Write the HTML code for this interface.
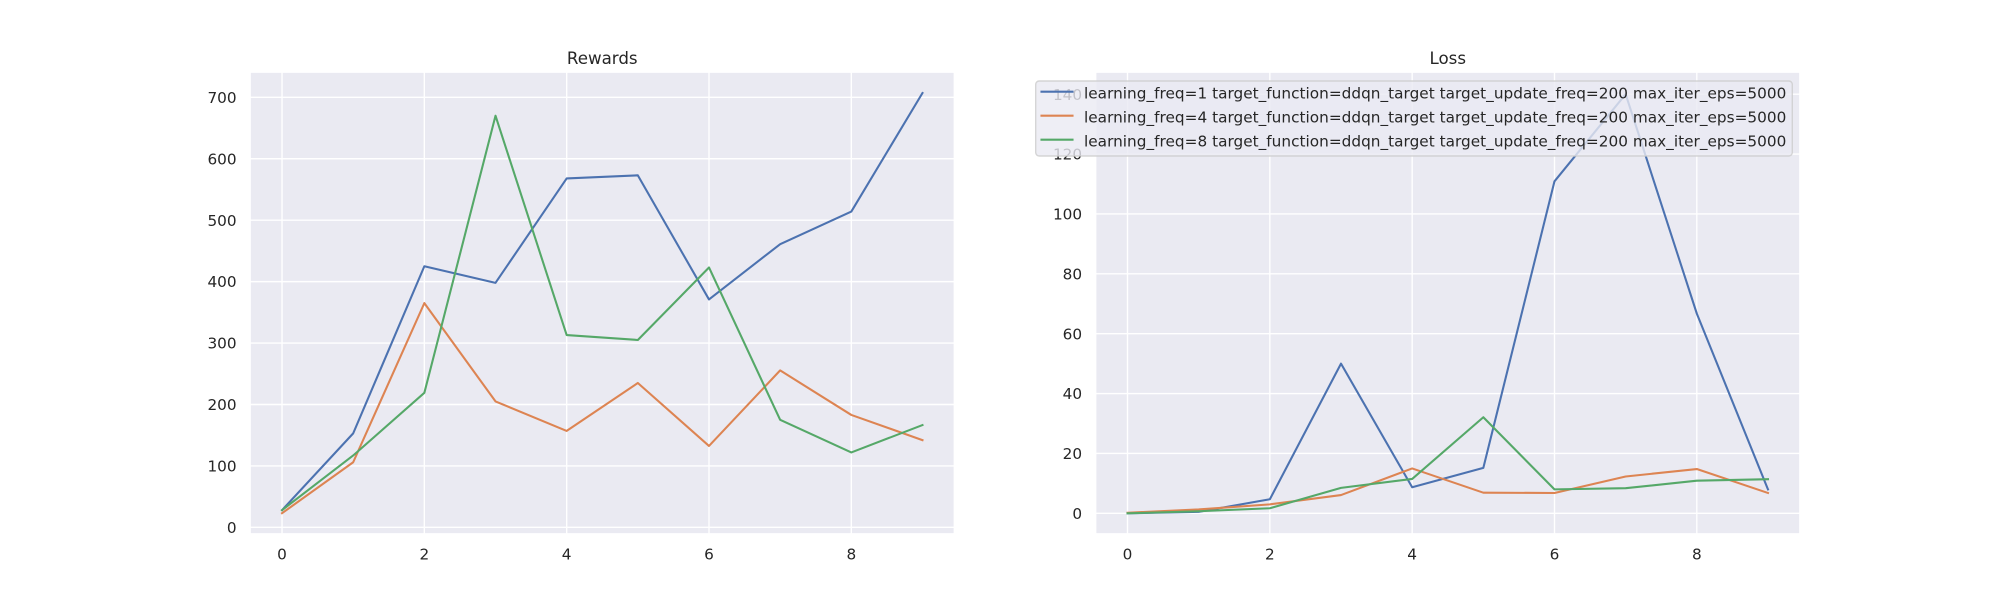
<!DOCTYPE html>
<html lang="en">
<head>
<meta charset="utf-8">
<title>Rewards and Loss</title>
<style>
html,body{margin:0;padding:0;background:#fff;width:2000px;height:600px;overflow:hidden}
svg{display:block}
text{font-family:"DejaVu Sans","Liberation Sans",sans-serif;fill:#262626}
</style>
</head>
<body>
<svg id="chart" xmlns="http://www.w3.org/2000/svg" width="2000" height="600" viewBox="0 0 2000 600"></svg>
<script>
const episodes = [0, 1, 2, 3, 4, 5, 6, 7, 8, 9];
const xTickLabels = [0, 2, 4, 6, 8];
const rewardTickLabels = [0, 100, 200, 300, 400, 500, 600, 700];
const lossTickLabels = [0, 20, 40, 60, 80, 100, 120, 140];
const seriesLabels = [
  "learning_freq=1 target_function=ddqn_target target_update_freq=200 max_iter_eps=5000",
  "learning_freq=4 target_function=ddqn_target target_update_freq=200 max_iter_eps=5000",
  "learning_freq=8 target_function=ddqn_target target_update_freq=200 max_iter_eps=5000"
];
const rewardsFreq1 = [28, 153, 425, 398, 568, 573, 371, 461, 514, 707];
const rewardsFreq4 = [23, 106, 365, 205, 157, 235, 132.5, 255.5, 183, 142];
const rewardsFreq8 = [28, 117, 219, 670, 313, 305, 423, 175, 122, 166.5];
const lossFreq1 = [0, 0.5, 4.7, 50, 8.7, 15.2, 110.9, 140, 66.7, 8];
const lossFreq4 = [0.2, 1.3, 3, 6.1, 15, 6.9, 6.8, 12.3, 14.8, 6.8];
const lossFreq8 = [0, 0.7, 1.7, 8.5, 11.5, 32.1, 8, 8.4, 10.9, 11.4];

const NS = "http://www.w3.org/2000/svg";
const root = document.getElementById("chart");
const colors = ["#4C72B0", "#DD8452", "#55A868"];
const seriesKeys = ["freq-1", "freq-4", "freq-8"];
const TOP = 72, BOTTOM = 534;

function node(parent, tag, attrs, txt) {
  const el = document.createElementNS(NS, tag);
  for (const k in attrs) el.setAttribute(k, attrs[k]);
  if (txt !== undefined) el.textContent = txt;
  parent.appendChild(el);
  return el;
}

function drawPanel(cfg) {
  const g = node(root, "g", {});
  
  

  const xMin = -0.45, xMax = 9.45;
  const xScale = v => cfg.left + (v - xMin) / (xMax - xMin) * (cfg.right - cfg.left);
  const yScale = v => BOTTOM - (v - cfg.yMin) / (cfg.yMax - cfg.yMin) * (BOTTOM - TOP);

  const bg = node(g, "rect", {x: cfg.left, y: TOP, width: cfg.right - cfg.left, height: BOTTOM - TOP, fill: "#EAEAF2"});
  
  

  xTickLabels.forEach(t => {
    const grid = node(g, "line", {x1: xScale(t), x2: xScale(t), y1: TOP, y2: BOTTOM, stroke: "#fff", "stroke-width": 1.39});
    
    
    const label = node(g, "text", {x: xScale(t), y: 559.4, "text-anchor": "middle", "font-size": "15.28px"}, String(t));
    
    
  });

  cfg.ticks.forEach(t => {
    const grid = node(g, "line", {x1: cfg.left, x2: cfg.right, y1: yScale(t), y2: yScale(t), stroke: "#fff", "stroke-width": 1.39});
    
    
    const label = node(g, "text", {x: cfg.left - 13.4, y: yScale(t) + 5.6, "text-anchor": "end", "font-size": "15.28px"}, String(t));
    
    
  });

  cfg.series.forEach((values, i) => {
    const pts = values.map((v, j) => xScale(episodes[j]).toFixed(2) + "," + yScale(v).toFixed(2)).join(" ");
    const line = node(g, "polyline", {points: pts, fill: "none", stroke: colors[i], "stroke-width": 2.08, "stroke-linejoin": "round", "stroke-linecap": "square"});
    
    
  });

  const frame = node(g, "rect", {x: cfg.left, y: TOP, width: cfg.right - cfg.left, height: BOTTOM - TOP, fill: "none", stroke: "#fff", "stroke-width": 1.74});
  
  

  const title = node(g, "text", {x: (cfg.left + cfg.right) / 2, y: 64, "text-anchor": "middle", "font-size": "16.67px"}, cfg.title);
  
  
}

drawPanel({key: "rewards", title: "Rewards", left: 250, right: 954.5, yMin: -10.8, yMax: 741.2,
  ticks: rewardTickLabels, series: [rewardsFreq1, rewardsFreq4, rewardsFreq8]});
drawPanel({key: "loss", title: "Loss", left: 1095.5, right: 1800, yMin: -6.9, yMax: 147.4,
  ticks: lossTickLabels, series: [lossFreq1, lossFreq4, lossFreq8]});

const legend = node(root, "g", {});


const legendBox = node(legend, "rect", {x: 1035.7, y: 81, width: 756.6, height: 75, rx: 3.5, ry: 3.5, fill: "#EAEAF2", "fill-opacity": 0.8, stroke: "#CCCCCC", "stroke-opacity": 0.8, "stroke-width": 1.39});


seriesLabels.forEach((s, i) => {
  const y = 91.7 + i * 24;
  const swatch = node(legend, "line", {x1: 1041.5, x2: 1072.5, y1: y, y2: y, stroke: colors[i], "stroke-width": 2.08, "stroke-linecap": "square"});
  
  
  const label = node(legend, "text", {x: 1084, y: y + 6.6, "font-size": "15.28px", "letter-spacing": "0.025px"}, s);
  
  
});
</script>
</body>
</html>
